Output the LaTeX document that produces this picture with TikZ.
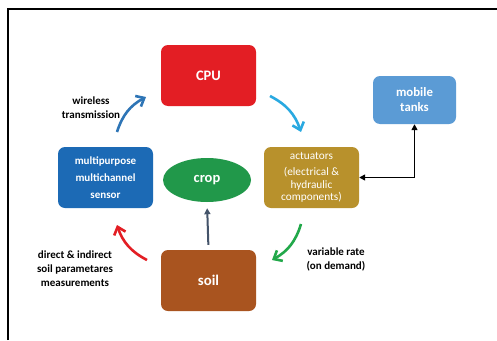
\documentclass[tikz,border=0pt]{standalone}
\usepackage{fontspec}
\setmainfont{Carlito}
\usetikzlibrary{arrows.meta,shapes.geometric}
\definecolor{cpured}{HTML}{E31E24}
\definecolor{sensorblue}{HTML}{1C6AB5}
\definecolor{tankblue}{HTML}{5B9BD5}
\definecolor{actgold}{HTML}{B8912C}
\definecolor{soilbrown}{HTML}{A9541F}
\definecolor{cropgreen}{HTML}{21984A}
\definecolor{wlblue}{HTML}{2E75B6}
\definecolor{skyblue}{HTML}{29A9E1}
\definecolor{arrgreen}{HTML}{22A84A}
\definecolor{slate}{HTML}{44546A}
\tikzset{
  box/.style={rounded corners=7pt, minimum width=95pt, minimum height=61pt, text=white, font=\bfseries, align=center, inner sep=2pt},
  lbl/.style={font=\fontsize{11}{14}\selectfont\bfseries, align=center, text=black},
  flow/.style={line width=2.6pt, -{Straight Barb[length=7pt,width=12pt,line width=2.6pt]}},
}
\begin{document}
\begin{tikzpicture}[x=1pt,y=-1pt]
\useasboundingbox (0,0) rectangle (497,340);
\fill[white] (0,0) rectangle (497,340);
\draw[line width=2pt] (8,340) -- (8,9) -- (497,9);

\node[box, fill=cpured, font=\fontsize{14.5}{17}\selectfont\bfseries] (cpu) at (208.5,75.5) {CPU};
\node[box, fill=tankblue, minimum width=83pt, minimum height=48pt, font=\fontsize{12.8}{15}\selectfont\bfseries] (tanks) at (414.5,100) {mobile\\tanks};
\node[box, fill=sensorblue, font=\fontsize{11}{17}\selectfont\bfseries] (sensor) at (105.5,177.5) {multipurpose\\multichannel\\sensor};
\node[box, fill=actgold, font=\fontsize{11.3}{12.5}\selectfont] (act) at (311.5,177.5) {actuators\\[4pt](electrical \&\\hydraulic\\components)};
\node[box, fill=soilbrown, font=\fontsize{14.8}{17}\selectfont\bfseries] (soil) at (208.5,280.5) {soil};
\node[ellipse, fill=cropgreen, minimum width=88pt, minimum height=44pt, inner sep=0pt, text=white, font=\fontsize{14.5}{17}\selectfont\bfseries] (crop) at (207,180) {crop};

\coordinate (w1) at (117,132);
\coordinate (w2) at (146,97);
\coordinate (c1) at (270,96);
\coordinate (c2) at (301,132);
\coordinate (g1) at (301,224);
\coordinate (g2) at (272,260);
\coordinate (r1) at (147,260);
\coordinate (r2) at (117,225);

\draw[flow, wlblue] (w1) to[bend left=22] (w2);
\draw[flow, skyblue] (c1) to[bend left=22] (c2);
\draw[flow, arrgreen] (g1) to[bend left=22] (g2);
\draw[flow, cpured] (r1) to[bend left=22] (r2);
\draw[line width=2pt, slate, -{Triangle[length=6pt,width=6pt]}, shorten <=5pt, shorten >=6pt] (soil.north) -- (crop.south);
\draw[line width=1.6pt, {Triangle[length=6pt,width=6pt]}-{Triangle[length=6pt,width=6pt]}] (act.east) -| (tanks.south);

\node[lbl] (wl) at (91,108) {wireless\\transmission};
\node[lbl] (vr) at (336,259.5) {variable rate\\(on demand)};
\node[lbl] (dm) at (75,269) {direct \& indirect\\soil parametares\\measurements};
\end{tikzpicture}
\end{document}
